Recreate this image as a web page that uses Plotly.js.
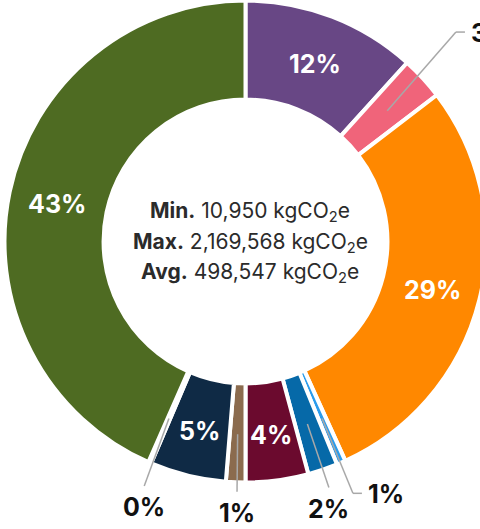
<!DOCTYPE html>
<html>
<head>
<meta charset="utf-8">
<script src="https://cdn.plot.ly/plotly-3.0.1.min.js"></script>
<style>
  html, body { margin: 0; padding: 0; overflow: hidden; background: #ffffff; }
  #chart { width: 520px; height: 529px; }
</style>
</head>
<body>
<div id="chart"></div>
<script>
// Share of total emissions (%) per segment, clockwise from 12 o'clock
const segments = ['Segment 1', 'Segment 2', 'Segment 3', 'Segment 4', 'Segment 5',
                  'Segment 6', 'Segment 7', 'Segment 8', 'Segment 9', 'Segment 10'];
const shares = [11.7, 2.9, 28.6, 0.6, 2.0, 4.2, 1.3, 5.1, 0.2, 43.4];

// Summary statistics printed in the hole
const statLabels = ['Min.', 'Max.', 'Avg.'];
const statValues = [10950, 2169568, 498547];
const statUnit = 'kgCO<sub>2</sub>e';

// Slice colours
const segmentColors = ['#684785', '#f0647a', '#ff8800', '#2b9cec', '#0669a8',
                       '#6b0a2e', '#8b6b4e', '#0f2a45', '#c9c9c9', '#4e6b22'];

// ---- geometry (pixels) ----
const W = 520, H = 529;
const CX = 245.5, CY = 241.5, R = 241, HOLE = 0.589;
const LABEL_R = 0.8;        // radius of in-slice labels and leader starts, as a fraction of R
const INSIDE_MIN = 4;       // slices at or above this share get their label inside
const PCT_FONT = 25;

// Leader placement for the small slices: elbow radius (x R), angle tweak (deg), label side
const leaderLayout = {
  'Segment 2': { r: 1.232, turn: -2.2, side: 'right' },
  'Segment 4': { r: 1.136, turn: 0.3,  side: 'right' },
  'Segment 5': { r: 1.078, turn: 0,    side: 'below' },
  'Segment 7': { r: 1.039, turn: -0.4, side: 'below' },
  'Segment 9': { r: 1.098, turn: -0.9, side: 'below' }
};

const px = x => x / W;
const py = y => 1 - y / H;
function polar(angleDeg, r) {
  const t = angleDeg * Math.PI / 180;
  return [CX + r * Math.sin(t), CY - r * Math.cos(t)];
}

const total = shares.reduce((a, b) => a + b, 0);
let acc = 0;
const midAngles = shares.map(v => {
  const a0 = acc;
  acc += v / total * 360;
  return (a0 + acc) / 2;
});
const pctText = shares.map(v => Math.round(v / total * 100) + '%');

const annotations = [];
const shapes = [];
const leaderStyle = { color: '#a8a8a8', width: 1.5 };

function addLine(p, q) {
  shapes.push({ type: 'line', xref: 'paper', yref: 'paper',
    x0: px(p[0]), y0: py(p[1]), x1: px(q[0]), y1: py(q[1]), line: leaderStyle });
}

shares.forEach((v, i) => {
  const pct = v / total * 100;
  if (pct >= INSIDE_MIN) {
    const p = polar(midAngles[i], LABEL_R * R);
    annotations.push({
      xref: 'paper', yref: 'paper', x: px(p[0]), y: py(p[1] + 2),
      xanchor: 'center', yanchor: 'middle', showarrow: false,
      text: pctText[i],
      font: { family: 'Inter, Liberation Sans, sans-serif', size: PCT_FONT, weight: 700, color: '#ffffff' }
    });
    return;
  }
  const cfg = leaderLayout[segments[i]];
  if (!cfg) return;
  const start = polar(midAngles[i], LABEL_R * R);
  const elbow = polar(midAngles[i] + cfg.turn, cfg.r * R);
  addLine(start, elbow);
  const lab = { xref: 'paper', yref: 'paper', showarrow: false, text: pctText[i],
    font: { family: 'Inter, Liberation Sans, sans-serif', size: PCT_FONT, weight: 700, color: '#111111' } };
  if (cfg.side === 'right') {
    const stub = [elbow[0] + 9, elbow[1]];
    addLine(elbow, stub);
    Object.assign(lab, { x: px(stub[0] + 4), y: py(elbow[1] + 1), xanchor: 'left', yanchor: 'middle' });
  } else {
    Object.assign(lab, { x: px(elbow[0]), y: py(elbow[1] + 4), xanchor: 'center', yanchor: 'top' });
  }
  annotations.push(lab);
});

// Statistics block in the hole
const statCenterY = [212, 242.5, 273];
statLabels.forEach((lbl, i) => {
  annotations.push({
    xref: 'paper', yref: 'paper', x: px(250), y: py(statCenterY[i]),
    xanchor: 'center', yanchor: 'middle', showarrow: false,
    text: '<b>' + lbl + '</b> ' + statValues[i].toLocaleString('en-US') + ' ' + statUnit,
    font: { family: 'Inter, Liberation Sans, sans-serif', size: 21, color: '#2b2b2b' }
  });
});

const trace = {
  type: 'pie',
  labels: segments,
  values: shares,
  sort: false,
  direction: 'clockwise',
  rotation: 0,
  hole: HOLE,
  textinfo: 'none',
  hoverinfo: 'label+percent',
  marker: { colors: segmentColors, line: { color: '#ffffff', width: 4 } },
  domain: { x: [px(CX - R), px(CX + R)], y: [py(CY + R), py(CY - R)] },
  showlegend: false
};

const layout = {
  width: W, height: H,
  margin: { l: 0, r: 0, t: 0, b: 0 },
  paper_bgcolor: '#ffffff',
  showlegend: false,
  font: { family: 'Inter, Liberation Sans, sans-serif' },
  annotations: annotations,
  shapes: shapes
};

Plotly.newPlot('chart', [trace], layout, { displayModeBar: false, staticPlot: true });
</script>
</body>
</html>
